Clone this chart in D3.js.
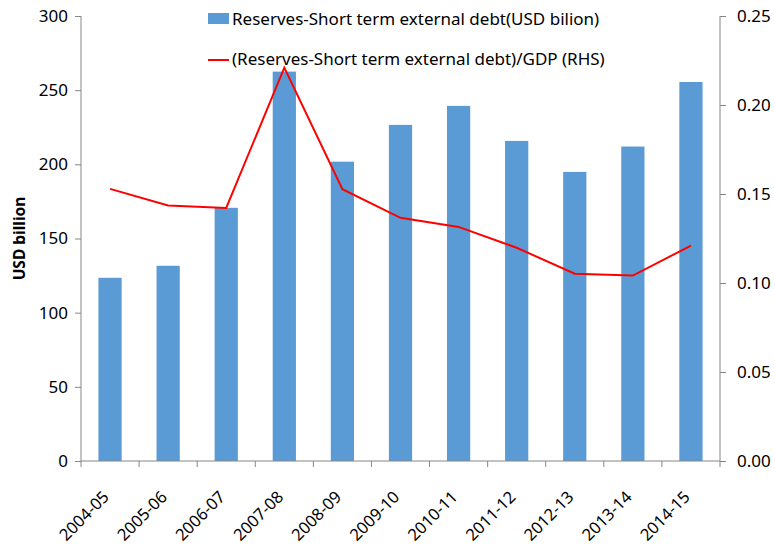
<!DOCTYPE html>
<html>
<head>
<meta charset="utf-8">
<script src="https://cdn.jsdelivr.net/npm/d3@7"></script>
<style>
  body { margin: 0; background: #fff; }
  svg text { font-family: "Noto Sans", "Open Sans", sans-serif; fill: #000; }
</style>
</head>
<body>
<div class="plot"></div>
<script>
var years = ["2004-05", "2005-06", "2006-07", "2007-08", "2008-09", "2009-10",
             "2010-11", "2011-12", "2012-13", "2013-14", "2014-15"];
var reserves = [123.5, 131.6, 170.7, 262.5, 201.8, 226.6, 239.4, 215.8, 194.9, 212.0, 255.5];
var ratio = [0.1529, 0.1435, 0.1422, 0.2210, 0.1527, 0.1366, 0.1315, 0.1198, 0.1052, 0.1042, 0.1210];
var leftTicks = [0, 50, 100, 150, 200, 250, 300];
var rightTicks = [0, 0.05, 0.10, 0.15, 0.20, 0.25];

var width = 775,
    height = 545,
    margin = {top: 16, right: 55, bottom: 84, left: 81},
    w = width - margin.left - margin.right,
    h = height - margin.top - margin.bottom;

var axisColor = "#868686";

var svg = d3.select(".plot").append("svg")
    .attr("width", width)
    .attr("height", height);

var g = svg.append("g")
    .attr("transform", "translate(" + margin.left + "," + margin.top + ")");

var x = d3.scaleBand()
    .domain(years)
    .range([0, w])
    .paddingInner(0.6)
    .paddingOuter(0.3);

var yL = d3.scaleLinear().domain([0, 300]).range([h, 0]);
var yR = d3.scaleLinear().domain([0, 0.25]).range([h, 0]);

// bars
g.selectAll(".bar")
    .data(reserves)
    .enter().append("rect")
    .attr("class", "bar")
    .attr("x", function(d, i) { return x(years[i]); })
    .attr("width", x.bandwidth())
    .attr("y", function(d) { return yL(d); })
    .attr("height", function(d) { return h - yL(d); })
    .style("fill", "#5B9BD5");

// line on right axis
var line = d3.line()
    .x(function(d, i) { return x(years[i]) + x.bandwidth() / 2; })
    .y(function(d) { return yR(d); });

g.append("path")
    .datum(ratio)
    .attr("d", line)
    .style("fill", "none")
    .style("stroke", "#FF0000")
    .style("stroke-width", 2);

// left axis
var axL = g.append("g")
    .call(d3.axisLeft(yL).tickValues(leftTicks).tickSize(6).tickPadding(7));
// right axis
var axR = g.append("g")
    .attr("transform", "translate(" + w + ",0)")
    .call(d3.axisRight(yR).tickValues(rightTicks).tickSize(6).tickPadding(11)
      .tickFormat(d3.format(".2f")));

// bottom axis: ticks at category boundaries
var bounds = d3.range(years.length + 1).map(function(i) { return i * w / years.length; });
var axB = g.append("g").attr("transform", "translate(0," + h + ")");
axB.append("line").attr("x1", 0).attr("x2", w).style("stroke", axisColor);
axB.selectAll(".btick")
    .data(bounds)
    .enter().append("line")
    .attr("x1", function(d) { return d; })
    .attr("x2", function(d) { return d; })
    .attr("y1", 0).attr("y2", 6)
    .style("stroke", axisColor);
axB.selectAll(".blabel")
    .data(years)
    .enter().append("text")
    .attr("transform", function(d) {
      return "translate(" + (x(d) + x.bandwidth() / 2) + ",37) rotate(-45)";
    })
    .attr("text-anchor", "end")
    .style("font-size", "16.5px")
    .text(function(d) { return d; });

[axL, axR].forEach(function(a) {
  a.select(".domain").style("stroke", axisColor);
  a.selectAll(".tick line").style("stroke", axisColor);
  a.selectAll(".tick text")
    .style("font-size", "17px")
    .style("font-family", "'Noto Sans', sans-serif")
    .attr("fill", "#000");
});
axL.select(".domain").attr("d", "M0," + h + "V0");
axR.select(".domain").attr("d", "M0," + h + "V0");

// y title
svg.append("text")
    .attr("transform", "translate(25," + (margin.top + h / 2) + ") rotate(-90)")
    .attr("text-anchor", "middle")
    .style("font-size", "15.5px")
    .style("font-weight", "bold")
    .text("USD billion");

// legend
var leg = svg.append("g");
leg.append("rect")
    .attr("x", 208).attr("y", 13)
    .attr("width", 21).attr("height", 11)
    .style("fill", "#5B9BD5");
leg.append("text")
    .attr("x", 232).attr("y", 19)
    .attr("dy", "0.35em")
    .style("font-size", "17px")
    .text("Reserves-Short term external debt(USD bilion)");
leg.append("line")
    .attr("x1", 208).attr("x2", 229)
    .attr("y1", 60).attr("y2", 60)
    .style("stroke", "#FF0000")
    .style("stroke-width", 2);
leg.append("text")
    .attr("x", 232).attr("y", 59)
    .attr("dy", "0.35em")
    .style("font-size", "17px")
    .text("(Reserves-Short term external debt)/GDP (RHS)");
</script>
</body>
</html>
